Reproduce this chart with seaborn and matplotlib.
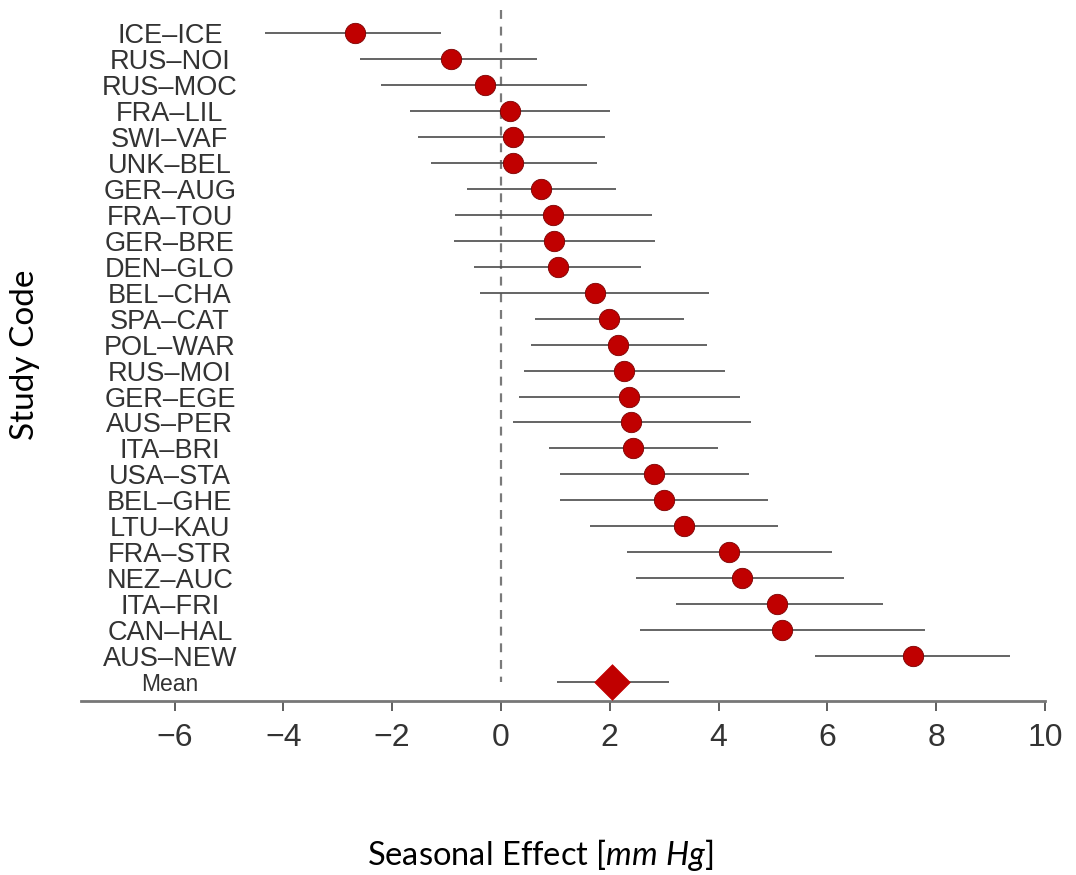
import matplotlib
matplotlib.use("Agg")
import matplotlib.pyplot as plt
import seaborn as sns
import pandas as pd

studies = ["ICE–ICE", "RUS–NOI", "RUS–MOC", "FRA–LIL", "SWI–VAF", "UNK–BEL",
           "GER–AUG", "FRA–TOU", "GER–BRE", "DEN–GLO", "BEL–CHA", "SPA–CAT",
           "POL–WAR", "RUS–MOI", "GER–EGE", "AUS–PER", "ITA–BRI", "USA–STA",
           "BEL–GHE", "LTU–KAU", "FRA–STR", "NEZ–AUC", "ITA–FRI", "CAN–HAL",
           "AUS–NEW"]
effect = [-2.69, -0.92, -0.30, 0.17, 0.22, 0.22, 0.74, 0.96, 0.97, 1.04,
          1.72, 1.99, 2.16, 2.27, 2.36, 2.39, 2.42, 2.82, 2.99, 3.37,
          4.20, 4.43, 5.07, 5.17, 7.58]
lower = [-4.33, -2.60, -2.20, -1.67, -1.53, -1.28, -0.62, -0.84, -0.87, -0.49,
         -0.38, 0.62, 0.56, 0.42, 0.33, 0.22, 0.88, 1.08, 1.08, 1.63,
         2.32, 2.49, 3.21, 2.56, 5.77]
upper = [-1.11, 0.67, 1.59, 2.00, 1.91, 1.77, 2.11, 2.77, 2.84, 2.57,
         3.83, 3.37, 3.78, 4.12, 4.39, 4.59, 3.98, 4.56, 4.90, 5.10,
         6.08, 6.31, 7.03, 7.80, 9.35]
mean_label = "Mean"
mean_effect = [2.04]
mean_lower = [1.03]
mean_upper = [3.09]
xticks = [-6, -4, -2, 0, 2, 4, 6, 8, 10]

labels = studies + [mean_label]
df = pd.DataFrame({"study": studies, "effect": effect, "lo": lower, "hi": upper})
df["pos"] = range(len(studies))
dm = pd.DataFrame({"study": [mean_label], "effect": mean_effect,
                   "lo": mean_lower, "hi": mean_upper})
dm["pos"] = [len(studies)]

sns.set_theme(style="white")
plt.rcParams["font.family"] = ["Liberation Sans", "DejaVu Sans"]
plt.rcParams["mathtext.fontset"] = "custom"
plt.rcParams["mathtext.rm"] = "Lato"
plt.rcParams["mathtext.it"] = "Lato:italic"

fig = plt.figure(figsize=(10.76, 8.75), dpi=100)
ax = fig.add_axes([81 / 1076, 1 - 701 / 875, 964 / 1076, 699 / 875])

# reference line at zero
ax.vlines(0, -0.9, len(studies), colors="#7a7a7a", linestyles=(0, (4, 3.5)),
          linewidth=1.6, zorder=1)

# confidence intervals
ax.hlines(df["pos"], df["lo"], df["hi"], colors="#4a4a4a", linewidth=1.2, zorder=2)
ax.hlines(dm["pos"], dm["lo"], dm["hi"], colors="#4a4a4a", linewidth=1.2, zorder=2)

sns.scatterplot(data=df, x="effect", y="pos", ax=ax, s=215, color="#C00000",
                edgecolor="#7a0000", linewidth=0.6, zorder=3, legend=False)
sns.scatterplot(data=dm, x="effect", y="pos", ax=ax, s=330, marker="D",
                color="#C00000", edgecolor="#C00000", linewidth=0.5, zorder=3,
                legend=False)

ax.set_xlim(-7.72, 10.0)
ax.set_ylim(25.73, -1.2)

ax.set_xticks(xticks)
ax.set_xticklabels([f"{t}".replace("-", "\u2212") for t in xticks],
                   fontsize=23, color="#333333")
ax.tick_params(axis="x", direction="out", length=7, width=1.1, color="#333333",
               pad=9, bottom=True)

ax.set_yticks(range(len(labels)))
ax.set_yticklabels(labels, color="#333333")
for i, t in enumerate(ax.get_yticklabels()):
    t.set_ha("center")
    t.set_fontsize(16.5 if labels[i] == mean_label else 19.5)
ax.tick_params(axis="y", length=0, pad=-64)

for s in ["top", "right", "left"]:
    ax.spines[s].set_visible(False)
ax.spines["bottom"].set_color("#777777")
ax.spines["bottom"].set_linewidth(2.0)

ax.set_xlabel("Seasonal Effect [$\\mathit{mm\\ Hg}$]", fontsize=23.5,
              family="Lato", color="black")
ax.xaxis.set_label_coords((540 - 81) / 964, (701 - 855) / 699)
ax.xaxis.label.set_va("center")
ax.set_ylabel("Study Code", fontsize=24, family="Lato", color="black")
ax.yaxis.set_label_coords((25 - 81) / 964, (701 - 355) / 699)
ax.yaxis.label.set_va("center")

fig.savefig("out.png", dpi=100)
